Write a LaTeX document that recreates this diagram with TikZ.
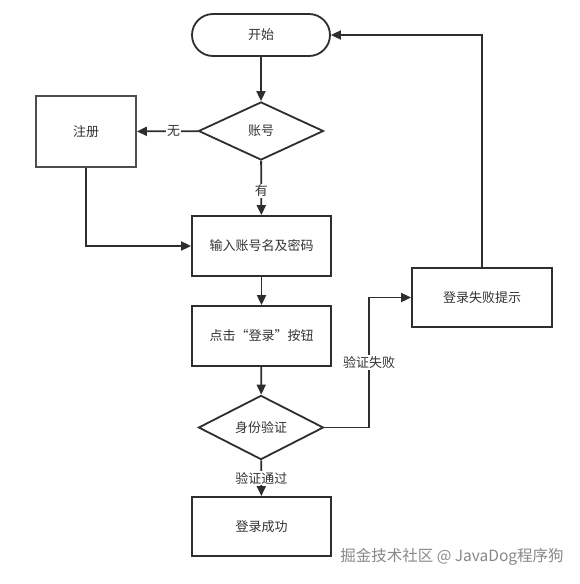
\documentclass[tikz,border=0pt]{standalone}
\usepackage{fontspec}
\setmainfont{Noto Sans CJK SC}
\usetikzlibrary{arrows.meta,shapes.geometric}
\definecolor{linec}{HTML}{2E2E2E}
\definecolor{txtc}{HTML}{333333}
\definecolor{wmc}{HTML}{888888}
\begin{document}
\begin{tikzpicture}[x=1pt,y=-1pt,
  line/.style={draw=linec,line width=1.8pt},
  arr/.style={line,-{Triangle[length=10pt,width=9pt]}},
  lbl/.style={fill=white,inner sep=1pt,font=\fontsize{13}{15}\selectfont,text=txtc},
  box/.style={draw=linec,line width=1.8pt,minimum width=139pt,minimum height=60pt,inner sep=0pt,font=\fontsize{13}{15}\selectfont,text=txtc},
  term/.style={box,minimum width=138pt,minimum height=42pt,rounded corners=21pt},
  dia/.style={diamond,draw=linec,line width=1.8pt,minimum width=125pt,minimum height=58pt,inner sep=0pt,font=\fontsize{13}{15}\selectfont,text=txtc}
]
\useasboundingbox[fill=white] (0,0) rectangle (580,584);
\node[term] (start) at (261,35) {开始};
\node[dia] (acc) at (261,131) {账号};
\node[box,draw=linec!85,minimum width=100pt,minimum height=71pt] (reg) at (86,131.5) {注册};
\node[box] (input) at (261.5,246) {输入账号名及密码};
\node[box] (click) at (261.5,336) {点击“登录”按钮};
\node[dia] (auth) at (261,427.5) {身份验证};
\node[box,minimum height=59pt] (ok) at (261.5,526.5) {登录成功};
\node[box,minimum width=140pt,minimum height=59pt] (fail) at (482,297.5) {登录失败提示};
\coordinate (fx) at (369,0);
\node[font=\fontsize{15.5}{17}\selectfont,text=wmc] (wm) at (452,557) {掘金技术社区 @ JavaDog程序狗};

\draw[arr] (start) -- (acc);
\draw[arr] (acc) -- node[lbl,pos=0.4]{无} (reg);
\draw[arr] (acc) -- node[lbl,pos=0.55]{有} (input);
\draw[arr] (reg.south) |- (input.west);
\draw[arr] (input) -- (click);
\draw[arr] (click) -- (auth);
\draw[arr] (auth) -- node[lbl]{验证通过} (ok);
\draw[arr] (auth.east) -- (auth.east -| fx) -- node[lbl]{验证失败} (fx |- fail.west) -- (fail.west);
\draw[arr] (fail.north) |- (start.east);
\end{tikzpicture}
\end{document}
